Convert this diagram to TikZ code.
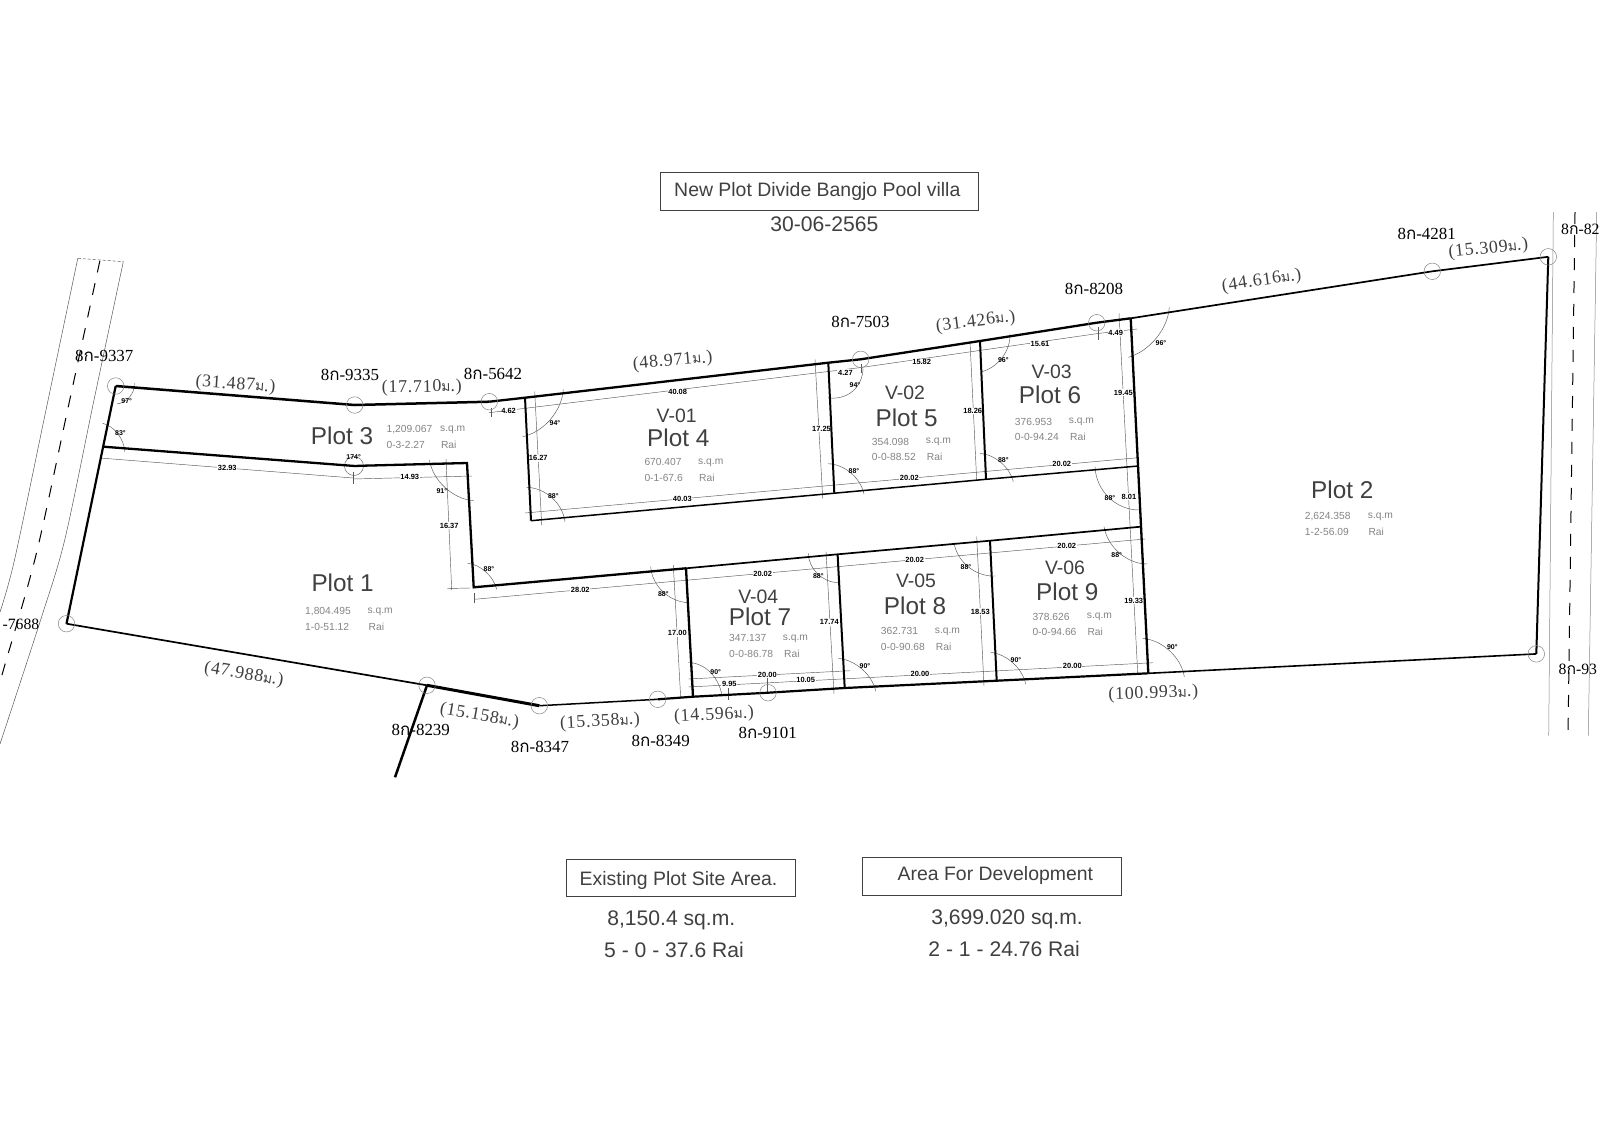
\documentclass[tikz,border=0pt]{standalone}
\usepackage{fontspec}
\setmainfont{Liberation Sans}
\newfontfamily\serifface{Liberation Serif}
\newfontfamily\lenface[LetterSpace=4]{Liberation Serif}
\newfontfamily\thaiface[Script=Thai]{Loma}
\usetikzlibrary{calc}
\definecolor{inkdark}{gray}{0.25}
\definecolor{inkmid}{gray}{0.52}
\definecolor{hair}{gray}{0.35}
\newcommand{\kk}{{\thaiface ก}}
\newcommand{\mm}{{\thaiface\fontsize{14}{16}\selectfont ม}}
\newcommand{\angarc}[3]{\draw[hairline] (#2) .. controls ($(#2)+0.552*(#3)-0.552*(#1)$) and ($(#3)+0.552*(#2)-0.552*(#1)$) .. (#3);}
\tikzset{
 hairline/.style={draw=hair,line width=0.45bp},
 bound/.style={draw=black,line width=#1,line join=miter},
 pinring/.style={draw=inkmid,line width=0.5bp,circle,minimum size=16.5bp,inner sep=0pt},
 roadedge/.style={draw=hair,line width=0.5bp},
 roaddash/.style={draw=black,line width=1bp,dash pattern=on 12bp off 11bp},
 dimtxt/.style={fill=white,inner sep=0.8bp,text=black,font=\fontsize{7.5}{8}\selectfont\bfseries},
 angtxt/.style={inner sep=0pt,text=black,font=\fontsize{7}{8}\selectfont\bfseries},
 plotname/.style={inner sep=0pt,text=inkdark,font=\fontsize{24.4}{26}\selectfont},
 vname/.style={inner sep=0pt,text=inkdark,font=\fontsize{19.5}{22}\selectfont},
 areatxt/.style={inner sep=0pt,anchor=west,text=inkmid,font=\fontsize{10.3}{12}\selectfont},
 pintxt/.style={inner sep=0pt,text=black,yshift=-1bp,font=\serifface\fontsize{17}{18}\selectfont},
 edgepin/.style={inner sep=0pt,text=black,font=\serifface\fontsize{15.8}{18}\selectfont},
 lentxt/.style={inner sep=0pt,text=inkdark,yshift=-2bp,font=\lenface\fontsize{18}{20}\selectfont},
 framebox/.style={draw=inkdark,line width=0.9bp,fill=none},
 headtxt/.style={inner sep=0pt,text=inkdark,font=\fontsize{19.5}{22}\selectfont},
 sumtxt/.style={inner sep=0pt,text=inkdark,font=\fontsize{21.2}{24}\selectfont},
}
\begin{document}
\begin{tikzpicture}[x=1bp,y=-1bp]
\useasboundingbox (0,0) rectangle (1600,1130);
\fill[white] (0,0) rectangle (1600,1130);
% survey points
\coordinate (A) at (115.7,386);
\coordinate (B) at (354.7,405);
\coordinate (C) at (489.3,401.7);
\coordinate (T1) at (525,397.7);
\coordinate (T2) at (828.3,362.7);
\coordinate (D) at (860.7,359.3);
\coordinate (T3) at (980,341);
\coordinate (E) at (1096.7,322.7);
\coordinate (T4) at (1130.7,318.3);
\coordinate (F) at (1432.3,271.3);
\coordinate (G) at (1548.3,256.8);
\coordinate (H) at (1536.3,653.9);
\coordinate (S4) at (1148.3,673.3);
\coordinate (S3) at (996.7,680.7);
\coordinate (S2) at (844.7,688);
\coordinate (I) at (768,692.7);
\coordinate (S1) at (693,696.7);
\coordinate (J) at (657.7,699.3);
\coordinate (K) at (539.3,705.7);
\coordinate (L) at (427,685.3);
\coordinate (M) at (66.5,623.7);
\coordinate (Spur) at (395,777.3);
\coordinate (P3a) at (103.6,446.7);
\coordinate (P3b) at (354.7,466);
\coordinate (P3c) at (363,465.7);
\coordinate (P3d) at (467,463);
\coordinate (R0) at (473.7,587.3);
\coordinate (R1) at (686,568.3);
\coordinate (R2) at (837.6,554.3);
\coordinate (R3) at (990,540.7);
\coordinate (R4) at (1140.7,526.7);
\coordinate (N0) at (531,520.7);
\coordinate (N1) at (834.3,493.2);
\coordinate (N2) at (986,479.3);
\coordinate (N3) at (1138.3,466);
% roads
\draw[roadedge] plot[smooth] coordinates {(77.8,258.3) (46,410) (14.5,560) (0,612)};
\draw[roadedge] plot[smooth] coordinates {(123.3,261.7) (94,400) (64.7,540) (40.6,620) (0,744)};
\draw[roaddash] plot[smooth] coordinates {(99.9,260.7) (68,408) (36,555) (3.4,670) (0,683)};
\draw[roadedge,densely dashed] (77.8,258.3) -- (123.3,261.7);
\draw[roadedge,draw=inkmid] (1553.3,212) -- (1548.7,735.5);
\draw[roadedge,draw=inkmid] (1596.7,212) -- (1588.3,735.5);
\draw[roaddash] (1575,212) -- (1568,735.5);
% dimension lines
\draw[hairline] (100,458) -- (353,478);
\draw[hairline] (353,479) -- (472,476);
\draw[hairline] (353,471.5) -- (353,483.5);
\draw[hairline] (489,412.7) -- (861,367.5) -- (1098,333.5) -- (1137,329);
\draw[hairline] (491.4,408.3) -- (491.4,417.3);
\draw[hairline] (861,364) -- (861,373);
\draw[hairline] (1098.3,327) -- (1098.3,340);
\draw[hairline] (525,513) -- (1138,457.7);
\draw[hairline] (474.3,599.3) -- (1145,539);
\draw[hairline] (474.3,593.3) -- (474.3,603.3);
\draw[hairline] (688.3,679) -- (850,670.7);
\draw[hairline] (688.3,687) -- (1153,662.7);
\draw[hairline] (767.7,672) -- (767.7,692);
\draw[hairline] (728,681) -- (728,700);
\draw[hairline] (534.7,391.7) -- (541.7,525);
\draw[hairline] (815,359.3) -- (822.7,498.3);
\draw[hairline] (970,341.7) -- (976.7,480.7);
\draw[hairline] (1119,313.3) -- (1137.7,673.3);
\draw[hairline] (446,459) -- (451.7,590);
\draw[hairline] (447,588.5) -- (470,588);
\draw[hairline] (673.3,565) -- (680.7,698.3);
\draw[hairline] (826,551.7) -- (834,694);
\draw[hairline] (976.7,536.7) -- (984,686);
% angle arcs
\angarc{115.7,386}{134.3,383.3}{117,404}
\angarc{103.6,446.7}{102.6,423.3}{124.7,451.7}
\draw[hairline] (354,466) circle[radius=9.5];
\angarc{467,463}{429.4,460}{473.5,500.7}
\angarc{525,397.7}{563.3,389.3}{522.7,436.7}
\angarc{531,520.7}{526.7,487.3}{565,521.7}
\angarc{828.3,362.7}{863,368}{828,397.7}
\angarc{834.3,493.2}{828,463.7}{864,494}
\angarc{980,341}{1010,333.3}{981.7,371.7}
\angarc{986,479.3}{980,453.3}{1013.3,481.7}
\angarc{1130.7,318.3}{1169.3,307.3}{1128.3,357.3}
\angarc{1138.3,466}{1095,466.7}{1140,510}
\angarc{473.7,587.3}{467.7,563.3}{496.7,589.3}
\angarc{686,568.3}{650.7,566.7}{688.3,602.7}
\angarc{837.6,554.3}{808.3,553.3}{838.3,582.7}
\angarc{990,540.7}{954,542.7}{995.7,576}
\angarc{1140.7,526.7}{1104,526.7}{1147.3,564}
\angarc{693,696.7}{688.3,662.7}{722,696}
\angarc{844.7,688}{838.3,658.3}{875.7,691}
\angarc{996.7,680.7}{990.7,652.3}{1025.7,684}
\angarc{1148.3,673.3}{1142.7,638.3}{1184.3,676.7}
% dimension labels
\node[dimtxt] (d1) at (227.3,468.3) {32.93};
\node[dimtxt] (d2) at (409.8,477.3) {14.93};
\node[dimtxt] (d3) at (449.2,525.7) {16.37};
\node[dimtxt] (d4) at (508.6,411) {4.62};
\node[dimtxt] (d5) at (677.7,392.3) {40.08};
\node[dimtxt] (d6) at (682.3,499) {40.03};
\node[dimtxt] (d7) at (538.3,458.3) {16.27};
\node[dimtxt] (d8) at (821.5,428.6) {17.25};
\node[dimtxt] (d9) at (845.5,372.5) {4.27};
\node[dimtxt] (d10) at (921.7,362.3) {15.82};
\node[dimtxt] (d11) at (1040,344) {15.61};
\node[dimtxt] (d12) at (1115.7,332.7) {4.49};
\node[dimtxt] (d13) at (972.7,411) {18.26};
\node[dimtxt] (d14) at (1123.3,392.7) {19.45};
\node[dimtxt] (d15) at (909.3,478.3) {20.02};
\node[dimtxt] (d16) at (1061.7,464.3) {20.02};
\node[dimtxt] (d17) at (1129,496.7) {8.01};
\node[dimtxt] (d18) at (580.3,590.3) {28.02};
\node[dimtxt] (d19) at (762.7,573.7) {20.02};
\node[dimtxt] (d20) at (914.7,560) {20.02};
\node[dimtxt] (d21) at (1066.7,546) {20.02};
\node[dimtxt] (d22) at (677.3,633.3) {17.00};
\node[dimtxt] (d23) at (829.3,622.3) {17.74};
\node[dimtxt] (d24) at (980.3,611.7) {18.53};
\node[dimtxt] (d25) at (1133.7,600.7) {19.33};
\node[dimtxt] (d26) at (767.3,675) {20.00};
\node[dimtxt] (d27) at (729.3,684.3) {9.95};
\node[dimtxt] (d28) at (805.7,680.3) {10.05};
\node[dimtxt] (d29) at (920,674.3) {20.00};
\node[dimtxt] (d30) at (1072.3,666.3) {20.00};
% boundary
\draw[bound=2.5bp] (A) -- (B) -- (C);
\draw[bound=2.3bp] (C) -- (T1) -- (T2) -- (D) -- (T3) -- (E) -- (T4);
\draw[bound=1.7bp] (T4) -- (F) -- (G);
\draw[bound=2bp] (G) -- (H);
\draw[bound=1.6bp] (H) -- (S4);
\draw[bound=2.2bp] (S4) -- (S3) -- (S2) -- (I) -- (S1) -- (J);
\draw[bound=1.5bp] (J) -- (K);
\draw[bound=3bp] (K) -- (L);
\draw[bound=1.7bp] (L) -- (M);
\draw[bound=2.2bp] (M) -- (A);
\draw[bound=2.5bp] (L) -- (Spur);
\draw[bound=2.3bp] (P3a) -- (P3b) -- (P3c) -- (P3d) -- (R0) -- (R1);
\draw[bound=1.7bp] (R1) -- (R2) -- (R3) -- (R4);
\draw[bound=1.5bp] (N0) -- (N1) -- (N2) -- (N3);
\draw[bound=2bp] (T1) -- (N0);
\draw[bound=2bp] (T2) -- (N1);
\draw[bound=2bp] (T3) -- (N2);
\draw[bound=2.3bp] (T4) -- (S4);
\draw[bound=2.3bp] (R1) -- (S1);
\draw[bound=2bp] (R2) -- (S2);
\draw[bound=2bp] (R3) -- (S3);
% pin rings
\node[pinring] (ra) at (A) {};
\node[pinring] (rb) at (B) {};
\node[pinring] (rc) at (C) {};
\node[pinring] (rd) at (D) {};
\node[pinring] (re) at (E) {};
\node[pinring] (rf) at (F) {};
\node[pinring] (rg) at (G) {};
\node[pinring] (rh) at (H) {};
\node[pinring] (ri) at (I) {};
\node[pinring] (rj) at (J) {};
\node[pinring] (rk) at (K) {};
\node[pinring] (rl) at (L) {};
\node[pinring] (rm) at (M) {};
% angle labels
\node[angtxt] (a1) at (126.7,401) {97°};
\node[angtxt] (a2) at (120.5,433) {83°};
\node[angtxt] (a3) at (353.6,456.7) {174°};
\node[angtxt] (a4) at (441.8,490.7) {91°};
\node[angtxt] (a5) at (555,422.7) {94°};
\node[angtxt] (a6) at (553.3,496) {88°};
\node[angtxt] (a7) at (855,385.3) {94°};
\node[angtxt] (a8) at (854,471) {88°};
\node[angtxt] (a9) at (1003.3,360) {96°};
\node[angtxt] (a10) at (1003.3,460) {88°};
\node[angtxt] (a11) at (1161,342.7) {96°};
\node[angtxt] (a12) at (1110,497.7) {88°};
\node[angtxt] (a13) at (489,569.3) {88°};
\node[angtxt] (a14) at (663.3,594.3) {88°};
\node[angtxt] (a15) at (818.3,576) {88°};
\node[angtxt] (a16) at (966,567.3) {88°};
\node[angtxt] (a17) at (1116.7,555) {88°};
\node[angtxt] (a18) at (715.7,671.7) {90°};
\node[angtxt] (a19) at (865,666) {90°};
\node[angtxt] (a20) at (1016,660) {90°};
\node[angtxt] (a21) at (1172.3,647.3) {90°};
% plot names
\node[plotname] (p3) at (342,436) {Plot 3};
\node[plotname] (p1) at (342.6,582.7) {Plot 1};
\node[plotname] (p2) at (1342.3,490.3) {Plot 2};
\node[plotname] (p4) at (678.3,438.3) {Plot 4};
\node[plotname] (p5) at (906.7,418.3) {Plot 5};
\node[plotname] (p6) at (1050,395) {Plot 6};
\node[plotname] (p7) at (760,617.3) {Plot 7};
\node[plotname] (p8) at (915,606) {Plot 8};
\node[plotname] (p9) at (1067.3,592.3) {Plot 9};
\node[vname] (v1) at (676.7,415.7) {V-01};
\node[vname] (v2) at (905,392.7) {V-02};
\node[vname] (v3) at (1051.7,372.3) {V-03};
\node[vname] (v4) at (758.3,596.7) {V-04};
\node[vname] (v5) at (916,581.3) {V-05};
\node[vname] (v6) at (1065,567.7) {V-06};
% areas
\node[areatxt] (q3a) at (386.4,429.3) {1,209.067};
\node[areatxt] (q3b) at (440,429.3) {s.q.m};
\node[areatxt] (q3c) at (386.4,445) {0-3-2.27};
\node[areatxt] (q3d) at (440.8,445) {Rai};
\node[areatxt] (q1a) at (305,611.7) {1,804.495};
\node[areatxt] (q1b) at (367.4,611.7) {s.q.m};
\node[areatxt] (q1c) at (305,626.7) {1-0-51.12};
\node[areatxt] (q1d) at (368.5,626.7) {Rai};
\node[areatxt] (q2a) at (1304.7,517) {2,624.358};
\node[areatxt] (q2b) at (1367.7,517) {s.q.m};
\node[areatxt] (q2c) at (1304.7,532.3) {1-2-56.09};
\node[areatxt] (q2d) at (1368.3,532.3) {Rai};
\node[areatxt] (q4a) at (644.3,462.3) {670.407};
\node[areatxt] (q4b) at (698,462.3) {s.q.m};
\node[areatxt] (q4c) at (644.3,477.7) {0-1-67.6};
\node[areatxt] (q4d) at (699,477.7) {Rai};
\node[areatxt] (q5a) at (871.7,442) {354.098};
\node[areatxt] (q5b) at (925.7,442) {s.q.m};
\node[areatxt] (q5c) at (871.7,457.3) {0-0-88.52};
\node[areatxt] (q5d) at (926.7,457.3) {Rai};
\node[areatxt] (q6a) at (1014.7,421.7) {376.953};
\node[areatxt] (q6b) at (1068.7,421.7) {s.q.m};
\node[areatxt] (q6c) at (1014.7,436.7) {0-0-94.24};
\node[areatxt] (q6d) at (1070,436.7) {Rai};
\node[areatxt] (q7a) at (729,638.3) {347.137};
\node[areatxt] (q7b) at (782.7,638.3) {s.q.m};
\node[areatxt] (q7c) at (729,654) {0-0-86.78};
\node[areatxt] (q7d) at (784,654) {Rai};
\node[areatxt] (q8a) at (880.7,631.3) {362.731};
\node[areatxt] (q8b) at (934.7,631.3) {s.q.m};
\node[areatxt] (q8c) at (880.7,647) {0-0-90.68};
\node[areatxt] (q8d) at (935.7,647) {Rai};
\node[areatxt] (q9a) at (1032.3,617) {378.626};
\node[areatxt] (q9b) at (1086.7,617) {s.q.m};
\node[areatxt] (q9c) at (1032.3,632.3) {0-0-94.66};
\node[areatxt] (q9d) at (1087.3,632.3) {Rai};
% pin labels
\node[pintxt] (n1) at (104.3,355) {8\kk-9337};
\node[pintxt] (n2) at (350,374) {8\kk-9335};
\node[pintxt] (n3) at (493,372.7) {8\kk-5642};
\node[pintxt] (n4) at (860.5,320.7) {8\kk-7503};
\node[pintxt] (n5) at (1094,288.3) {8\kk-8208};
\node[pintxt] (n6) at (1426.7,232.7) {8\kk-4281};
\node[edgepin,anchor=west] (n7) at (1561,229.3) {8\kk-82};
\node[edgepin,anchor=west] (n8) at (1558.5,669) {8\kk-93};
\node[edgepin,anchor=east] (n9) at (39.5,624) {-7688};
\node[pintxt] (n10) at (420.8,729.3) {8\kk-8239};
\node[pintxt] (n11) at (540,746) {8\kk-8347};
\node[pintxt] (n12) at (660.7,740) {8\kk-8349};
\node[pintxt] (n13) at (767.7,731.7) {8\kk-9101};
% lengths
\node[lentxt,rotate=-4] (l1) at (235.5,382.7) {(31.487\mm.)};
\node[lentxt,rotate=1] (l2) at (421.8,385.7) {(17.710\mm.)};
\node[lentxt,rotate=5] (l3) at (672.7,359.3) {(48.971\mm.)};
\node[lentxt,rotate=7] (l4) at (975.7,320) {(31.426\mm.)};
\node[lentxt,rotate=8] (l5) at (1261.7,279.2) {(44.616\mm.)};
\node[lentxt,rotate=6] (l6) at (1488.3,247.2) {(15.309\mm.)};
\node[lentxt,rotate=2] (l7) at (1153.3,691.7) {(100.993\mm.)};
\node[lentxt,rotate=3] (l8) at (714,713.3) {(14.596\mm.)};
\node[lentxt,rotate=3] (l9) at (600,720) {(15.358\mm.)};
\node[lentxt,rotate=-10] (l10) at (479.5,714) {(15.158\mm.)};
\node[lentxt,rotate=-10] (l11) at (243.8,672.7) {(47.988\mm.)};
% headings
\node[framebox,minimum width=318.4bp,minimum height=38bp,inner sep=0pt] (title) at (819.5,191.7) {};
\node[headtxt] (titlet) at (817.3,191.5) {New Plot Divide Bangjo Pool villa};
\node[sumtxt] (date) at (824.3,224) {30-06-2565};
\node[framebox,minimum width=229.3bp,minimum height=37.7bp,inner sep=0pt] (ex) at (680.6,877.8) {};
\node[headtxt] (ext) at (678.5,880.5) {Existing Plot Site Area.};
\node[framebox,minimum width=259.1bp,minimum height=38.4bp,inner sep=0pt] (ar) at (992.1,876.5) {};
\node[headtxt] (art) at (995.4,875) {Area For Development};
\node[sumtxt] (s1) at (671.3,920.5) {8,150.4 sq.m.};
\node[sumtxt] (s2) at (674,950) {5 - 0 - 37.6 Rai};
\node[sumtxt] (s3) at (1007,919.5) {3,699.020 sq.m.};
\node[sumtxt] (s4) at (1004.2,949) {2 - 1 - 24.76 Rai};
\end{tikzpicture}
\end{document}
